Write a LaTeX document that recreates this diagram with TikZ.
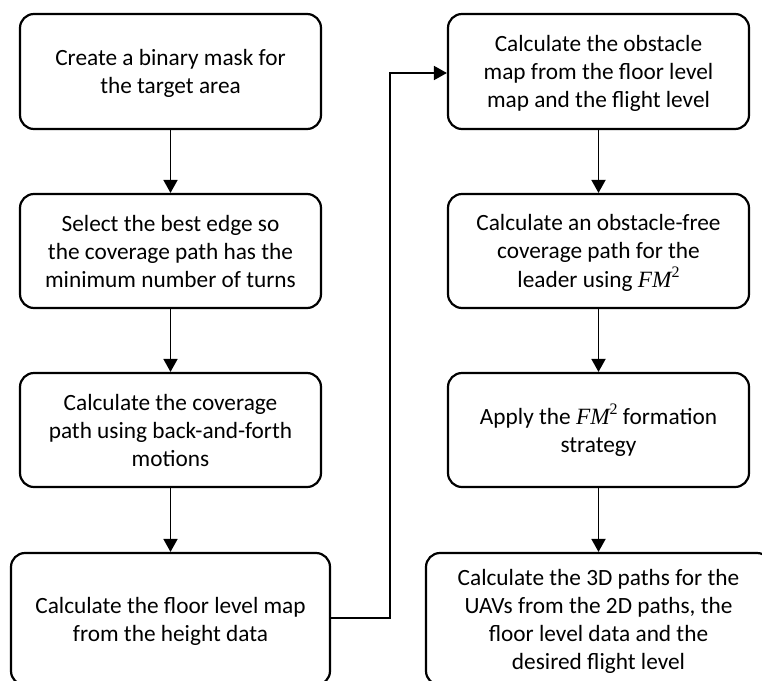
\documentclass[tikz,border=0pt]{standalone}
\usepackage{fontspec}
\setmainfont{Carlito}
\newfontfamily\symfont{Liberation Serif}
\usetikzlibrary{arrows.meta}
% step text: centred lines, set slightly below the box centre
\newcommand\steptext[1]{\raisebox{-2.5pt}[\height][\depth]{\begin{tabular}{@{}c@{}}#1\end{tabular}}}
% the FM^2 method name, set as an italic serif symbol with a raised 2
\newcommand\fmsq{{\symfont\itshape FM}\raisebox{0.42em}{\symfont\fontsize{16}{16}\selectfont 2}}
\begin{document}
\begin{tikzpicture}[x=1pt,y=-1pt,
  stepbox/.style={draw=black,line width=2.2pt,rounded corners=14pt,
    align=center,inner sep=0pt,
    font=\fontsize{23.3}{28}\selectfont},
  flow/.style={line width=1.8pt,-{Triangle[length=13pt,width=14pt]}}]
\useasboundingbox (0,0) rectangle (762,680);
\clip (0,0) rectangle (762,680);
% left column
\node[stepbox,minimum width=301pt,minimum height=115pt] (l1) at (170.5,71.5)
  {\steptext{Create a binary mask for\\the target area}};
\node[stepbox,minimum width=301pt,minimum height=114pt] (l2) at (170.5,251)
  {\steptext{Select the best edge so\\the coverage path has the\\minimum number of turns}};
\node[stepbox,minimum width=301pt,minimum height=114pt] (l3) at (170.5,430)
  {\steptext{Calculate the coverage\\path using back-and-forth\\motions}};
\node[stepbox,minimum width=319pt,minimum height=132pt] (l4) at (170.5,619)
  {\steptext{Calculate the floor level map\\from the height data}};
% right column
\node[stepbox,minimum width=301pt,minimum height=115pt] (r1) at (598.5,71.5)
  {\steptext{Calculate the obstacle\\map from the floor level\\map and the flight level}};
\node[stepbox,minimum width=301pt,minimum height=114pt] (r2) at (598.5,251)
  {\steptext{Calculate an obstacle-free\\coverage path for the\\leader using \fmsq}};
\node[stepbox,minimum width=301pt,minimum height=114pt] (r3) at (598.5,430)
  {\steptext{Apply the \fmsq{} formation\\strategy}};
\node[stepbox,minimum width=345pt,minimum height=132pt] (r4) at (598.5,619)
  {\steptext{Calculate the 3D paths for the\\UAVs from the 2D paths, the\\floor level data and the\\desired flight level}};
% connectors
\draw[flow] (l1) -- (l2);
\draw[flow] (l2) -- (l3);
\draw[flow] (l3) -- (l4);
\coordinate (jb) at (390,618);
\coordinate (jt) at (390,73);
\draw[flow] (l4.east |- jb) -- (jb) -- (jt) -- (r1.west |- jt);
\draw[flow] (r1) -- (r2);
\draw[flow] (r2) -- (r3);
\draw[flow] (r3) -- (r4);
\end{tikzpicture}
\end{document}
